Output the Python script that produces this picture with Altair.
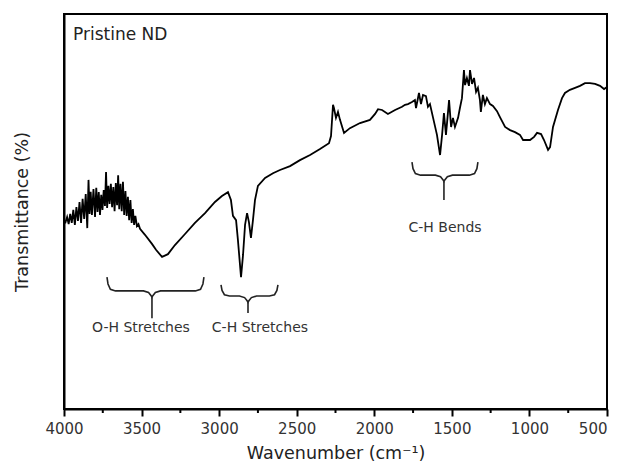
import altair as alt
import pandas as pd

# ---- spectrum (wavenumber in cm^-1, transmittance in arbitrary %) ----
wavenumber = [
    4000, 3990, 3980, 3970, 3960, 3950, 3940, 3930, 3920, 3910, 3900, 3890, 3880, 3870,
    3860, 3850, 3842, 3835, 3828, 3820, 3810, 3800, 3792, 3784, 3776, 3768, 3760, 3752,
    3744, 3736, 3729, 3722, 3714, 3706, 3698, 3690, 3682, 3674, 3666, 3658, 3651, 3644,
    3636, 3628, 3620, 3612, 3604, 3596, 3588, 3580, 3572, 3564, 3556, 3548, 3540, 3530,
    3520, 3510, 3478, 3433, 3407, 3368, 3330, 3285, 3220, 3156, 3091, 3027, 2982, 2943,
    2924, 2911, 2891, 2879, 2859, 2846, 2833, 2820, 2808, 2795, 2782, 2769, 2750, 2704,
    2653, 2608, 2543, 2479, 2414, 2350, 2292, 2279, 2266, 2260, 2247, 2234, 2221, 2195,
    2157, 2092, 2028, 1995, 1976, 1950, 1912, 1866, 1821, 1802, 1783, 1757, 1738, 1731,
    1712, 1699, 1686, 1667, 1654, 1641, 1622, 1596, 1576, 1563, 1551, 1538, 1518, 1505,
    1493, 1480, 1460, 1448, 1435, 1422, 1415, 1403, 1390, 1383, 1370, 1357, 1344, 1332,
    1319, 1313, 1300, 1287, 1274, 1254, 1235, 1209, 1190, 1157, 1125, 1093, 1061, 1041,
    996, 970, 951, 925, 906, 880, 867, 848, 816, 790, 771, 739, 706, 674,
    642, 610, 577, 545, 519, 500,
]
transmittance = [
    47.8, 47.3, 48.6, 46.8, 49.4, 47.1, 50.4, 46.6, 51.1, 47.6, 52.4, 47.1, 53.2, 48.1,
    54.4, 45.8, 58.0, 49.4, 55.0, 49.1, 55.7, 48.6, 56.0, 49.9, 54.9, 49.1, 54.2, 50.4,
    55.4, 51.4, 60.0, 50.9, 56.5, 51.9, 57.0, 51.1, 56.2, 50.1, 57.2, 51.6, 59.2, 50.6,
    57.0, 50.1, 57.5, 49.1, 55.2, 48.9, 53.7, 47.8, 52.9, 47.1, 50.6, 46.6, 48.9, 46.3,
    46.8, 45.6, 44.1, 41.8, 40.3, 38.5, 39.2, 41.5, 44.3, 47.1, 49.6, 52.4, 53.9, 54.9,
    52.9, 48.9, 47.8, 42.8, 33.4, 39.0, 46.6, 49.6, 47.3, 43.3, 47.8, 52.9, 56.5, 58.5,
    59.7, 60.5, 61.5, 63.0, 64.3, 65.8, 67.3, 69.1, 77.0, 76.2, 73.7, 75.2, 73.2, 69.9,
    71.1, 72.4, 73.2, 74.7, 75.9, 75.7, 74.7, 75.7, 76.5, 77.0, 77.2, 77.7, 78.2, 76.2,
    80.0, 77.2, 79.5, 79.2, 76.5, 77.2, 73.9, 69.4, 64.3, 69.4, 74.9, 69.4, 78.2, 71.4,
    73.7, 71.4, 73.7, 76.2, 78.7, 85.8, 82.0, 83.8, 81.8, 85.8, 82.3, 83.8, 80.3, 81.3,
    78.2, 75.2, 79.5, 77.2, 78.7, 77.2, 76.7, 75.4, 73.9, 71.4, 70.6, 70.1, 69.4, 68.1,
    68.1, 68.9, 69.9, 69.6, 68.1, 65.6, 66.3, 71.4, 75.7, 78.7, 80.0, 80.8, 81.3, 81.8,
    82.5, 82.5, 82.3, 81.8, 81.0, 81.5,
]

x_ticks = [4000, 3500, 3000, 2500, 2000, 1500, 1000, 500]
x_minor_ticks = [3750, 3250, 2750, 2250, 1750, 1250, 750]

# ---- braces (wavenumber ends / centre, heights) ----
brace_left = [3723, 2988, 1757]
brace_right = [3098, 2621, 1332]
brace_center = [3433, 2814, 1551]
brace_top = [33.4, 31.4, 62.5]
brace_mid = [29.9, 28.6, 59.2]
brace_bottom = [23.0, 24.3, 52.9]

label_text = ["O-H Stretches", "C-H Stretches", "C-H Bends"]
label_wn = [3504, 2737, 1544]
label_t = [19.5, 19.5, 44.8]

title_text = ["Pristine ND"]
title_wn = [3942]
title_t = [93.4]

spec = pd.DataFrame({"wn": wavenumber, "t": transmittance, "i": range(len(wavenumber))})

rows = []
for b in range(len(brace_left)):
    L, R, C = brace_left[b], brace_right[b], brace_center[b]
    top, mid, bot = brace_top[b], brace_mid[b], brace_bottom[b]
    e = 55.0
    h = 1.6
    d = top - mid
    pts = [
        (L, top), (L - 0.12 * e, top - 0.5 * d), (L - 0.4 * e, mid + 0.12 * d), (L - e, mid),
        (C + e, mid), (C + 0.4 * e, mid - 0.25 * h), (C + 0.1 * e, mid - 0.75 * h), (C, mid - h),
        (C - 0.1 * e, mid - 0.75 * h), (C - 0.4 * e, mid - 0.25 * h), (C - e, mid),
        (R + e, mid), (R + 0.4 * e, mid + 0.12 * d), (R + 0.12 * e, top - 0.5 * d), (R, top),
    ]
    for k, (xx, yy) in enumerate(pts):
        rows.append({"wn": xx, "t": yy, "i": k, "g": f"b{b}"})
    rows.append({"wn": C, "t": mid - h, "i": 0, "g": f"s{b}"})
    rows.append({"wn": C, "t": bot, "i": 1, "g": f"s{b}"})
braces = pd.DataFrame(rows)

labels = pd.DataFrame({"wn": label_wn, "t": label_t, "txt": label_text})
titles = pd.DataFrame({"wn": title_wn, "t": title_t, "txt": title_text})
minor = pd.DataFrame({"wn": x_minor_ticks})

x_scale = alt.Scale(domain=[500, 4000], reverse=True, nice=False, zero=False)
y_scale = alt.Scale(domain=[0, 100], nice=False)

x_enc = alt.X(
    "wn:Q", scale=x_scale,
    axis=alt.Axis(
        values=x_ticks, format="d", title="Wavenumber (cm⁻¹)", grid=False,
        labelFlush=False, labelOverlap=False, tickSize=7, tickWidth=2, tickColor="black",
        labelPadding=5, titlePadding=8,
        labelAlign={"condition": {"test": "datum.value == 500", "value": "right"}, "value": "center"},
    ),
)
y_enc = alt.Y(
    "t:Q", scale=y_scale,
    axis=alt.Axis(labels=False, ticks=False, grid=False, title="Transmittance (%)", titlePadding=33),
)

line = alt.Chart(spec).mark_line(color="black", strokeWidth=1.8).encode(
    x=x_enc, y=y_enc, order="i:Q"
)

brace_layer = alt.Chart(braces).mark_line(color="#222222", strokeWidth=1.6).encode(
    x=alt.X("wn:Q", scale=x_scale),
    y=alt.Y("t:Q", scale=y_scale),
    detail="g:N",
    order="i:Q",
)

label_layer = alt.Chart(labels).mark_text(
    font="DejaVu Sans", fontSize=14, color="#333333", align="center", baseline="alphabetic"
).encode(x=alt.X("wn:Q", scale=x_scale), y=alt.Y("t:Q", scale=y_scale), text="txt:N")

title_layer = alt.Chart(titles).mark_text(
    font="DejaVu Sans", fontSize=17, color="#222222", align="left", baseline="alphabetic"
).encode(x=alt.X("wn:Q", scale=x_scale), y=alt.Y("t:Q", scale=y_scale), text="txt:N")

minor_layer = alt.Chart(minor).mark_rule(color="black", strokeWidth=2).encode(
    x=alt.X("wn:Q", scale=x_scale), y=alt.value(395), y2=alt.value(399)
)

chart = alt.layer(line, brace_layer, label_layer, title_layer, minor_layer).properties(
    width=543, height=395,
    autosize=alt.AutoSizeParams(type="none"),
    padding={"left": 56, "top": 6, "right": 3, "bottom": 57},
).configure_view(
    stroke="black", strokeWidth=2
).configure_axis(
    domainColor="black", domainWidth=2,
    labelFont="DejaVu Sans", labelFontSize=15, labelColor="#333333",
    titleFont="DejaVu Sans", titleFontSize=17.5, titleFontWeight="normal", titleColor="#222222",
)

chart.save("out.html", embed_options={"renderer": "svg", "actions": False})
